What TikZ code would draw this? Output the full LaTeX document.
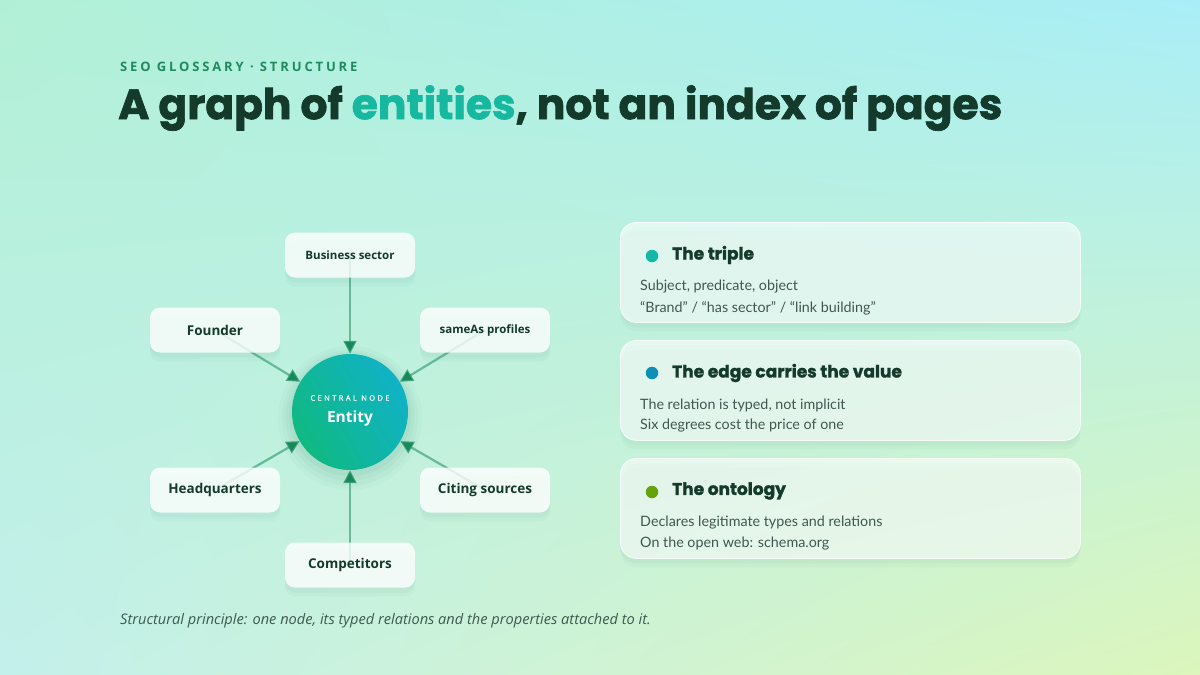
\documentclass[tikz,border=0pt]{standalone}
\usepackage{fontspec}
\usetikzlibrary{shadows,arrows.meta,shadings}
\setmainfont{Lato}
\newfontfamily\headfont{Poppins}[BoldFeatures={FakeBold=1.6}]
\newfontfamily\labelfont{Open Sans}
\newfontfamily\kickerfont{Open Sans}[LetterSpace=22]
\newfontfamily\capfont{Open Sans}[FakeBold=0.6, LetterSpace=32]

\definecolor{bgA}{HTML}{B2F0D6}
\definecolor{bgB}{HTML}{A9EEF7}
\definecolor{bgC}{HTML}{C3F0EB}
\definecolor{bgD}{HTML}{DCF6BC}
\definecolor{ink}{HTML}{143A2B}
\definecolor{kicker}{HTML}{1F8A5E}
\definecolor{accent}{HTML}{16B8A0}
\definecolor{dotA}{HTML}{14B8A6}
\definecolor{dotB}{HTML}{0E8FB5}
\definecolor{dotC}{HTML}{65A30D}
\definecolor{edge}{HTML}{3FA37C}
\definecolor{edgehead}{HTML}{15895A}
\definecolor{body}{HTML}{3E5950}
\definecolor{entA}{HTML}{10B981}
\definecolor{entB}{HTML}{10B2C6}
\definecolor{shade}{HTML}{2E7D66}

\tikzset{
  softshadow/.style={
    general shadow={fill=shade, opacity=0.035, shadow yshift=-9pt},
    general shadow={fill=shade, opacity=0.04, shadow yshift=-5pt}},
  sat/.style={rectangle, rounded corners=10pt, fill=white, fill opacity=0.8,
    text opacity=1, minimum width=130pt, minimum height=45pt, softshadow,
    font=\labelfont\bfseries\fontsize{13.5}{15}\selectfont, text=ink},
  satsmall/.style={sat, font=\labelfont\bfseries\fontsize{11.5}{13}\selectfont},
  rel/.style={draw=edge, draw opacity=0.7, line width=2.2pt,
    -{Triangle[length=13pt,width=13pt,fill=edgehead,color=edgehead]}},
  card/.style={rectangle, rounded corners=16pt, fill=white, fill opacity=0.6,
    draw=white, draw opacity=0.8, line width=0.8pt, softshadow,
    minimum width=460pt, minimum height=100pt, anchor=north west},
  cardtitle/.style={anchor=west, inner sep=0pt, font=\headfont\bfseries\fontsize{17}{19}\selectfont, text=ink},
  cardline/.style={anchor=west, inner sep=0pt, font=\fontsize{14.3}{16}\selectfont, text=body},
  carddot/.style={circle, minimum size=12.5pt, inner sep=0pt}
}

\begin{document}
\begin{tikzpicture}[x=1pt, y=-1pt]

% background
\shade[upper left=bgA, upper right=bgB, lower left=bgC, lower right=bgD]
  (0,0) rectangle (1200,675);
\useasboundingbox (0,0) rectangle (1200,675);

% heading
\node[anchor=west, text=kicker, font=\kickerfont\bfseries\fontsize{13}{15}\selectfont, inner sep=0pt]
  (kick) at (120,67) {SEO GLOSSARY · STRUCTURE};
\node[anchor=west, text=ink, font=\headfont\bfseries\fontsize{42.4}{46}\selectfont, inner sep=0pt]
  (title) at (118,108) {A graph of \textcolor{accent}{entities}, not an index of pages};

% central node
\node[circle, minimum size=116pt, inner sep=0pt, left color=entA, right color=entB,
  shading angle=120,
  general shadow={fill=shade, opacity=0.03, shadow yshift=-5pt, shadow scale=1.24},
  general shadow={fill=shade, opacity=0.035, shadow yshift=-5pt, shadow scale=1.17},
  general shadow={fill=shade, opacity=0.04, shadow yshift=-4pt, shadow scale=1.11},
  general shadow={fill=shade, opacity=0.05, shadow yshift=-3pt, shadow scale=1.05}]
  (ent) at (350,412) {};
\node[text=white, font=\capfont\fontsize{7.5}{9}\selectfont, inner sep=0pt]
  (entcap) at (350,398) {CENTRAL NODE};
\node[text=white, font=\labelfont\bfseries\fontsize{15.5}{17}\selectfont, inner sep=0pt]
  (entname) at (350,418) {Entity};

% property positions, relations drawn under the boxes
\coordinate (psector) at (350,255);
\coordinate (pfound)  at (215,330);
\coordinate (psameas) at (485,330);
\coordinate (phq)     at (215,490);
\coordinate (pciting) at (485,490);
\coordinate (pcomp)   at (350,565);
\foreach \p in {psector,pfound,psameas,phq,pciting,pcomp}
  \draw[rel] (\p) -- (ent);

% properties
\node[satsmall] (sector) at (psector) {Business sector};
\node[sat]      (found)  at (pfound)  {Founder};
\node[satsmall] (sameas) at (psameas) {sameAs profiles};
\node[sat]      (hq)     at (phq)     {Headquarters};
\node[sat]      (citing) at (pciting) {Citing sources};
\node[sat]      (comp)   at (pcomp)   {Competitors};

% cards
\node[card] (triple) at (620,222) {};
\node[carddot, fill=dotA] (dtriple) at (652,256) {};
\node[cardtitle] (ttriple) at (672,255) {The triple};
\node[cardline] (ltripleA) at (640,287) {Subject, predicate, object};
\node[cardline] (ltripleB) at (640,308) {“Brand” / “has sector” / “link building”};

\node[card] (edgev) at (620,340) {};
\node[carddot, fill=dotB] (dedgev) at (652,373) {};
\node[cardtitle] (tedgev) at (672,373) {The edge carries the value};
\node[cardline] (ledgevA) at (640,405) {The relation is typed, not implicit};
\node[cardline] (ledgevB) at (640,426) {Six degrees cost the price of one};

\node[card] (onto) at (620,458) {};
\node[carddot, fill=dotC] (donto) at (652,492) {};
\node[cardtitle] (tonto) at (672,491) {The ontology};
\node[cardline] (lontoA) at (640,523) {Declares legitimate types and relations};
\node[cardline] (lontoB) at (640,544) {On the open web: schema.org};

% caption
\node[anchor=west, text=body, font=\labelfont\itshape\fontsize{14.6}{16}\selectfont, inner sep=0pt]
  (caption) at (120,621) {Structural principle: one node, its typed relations and the properties attached to it.};

\end{tikzpicture}
\end{document}
